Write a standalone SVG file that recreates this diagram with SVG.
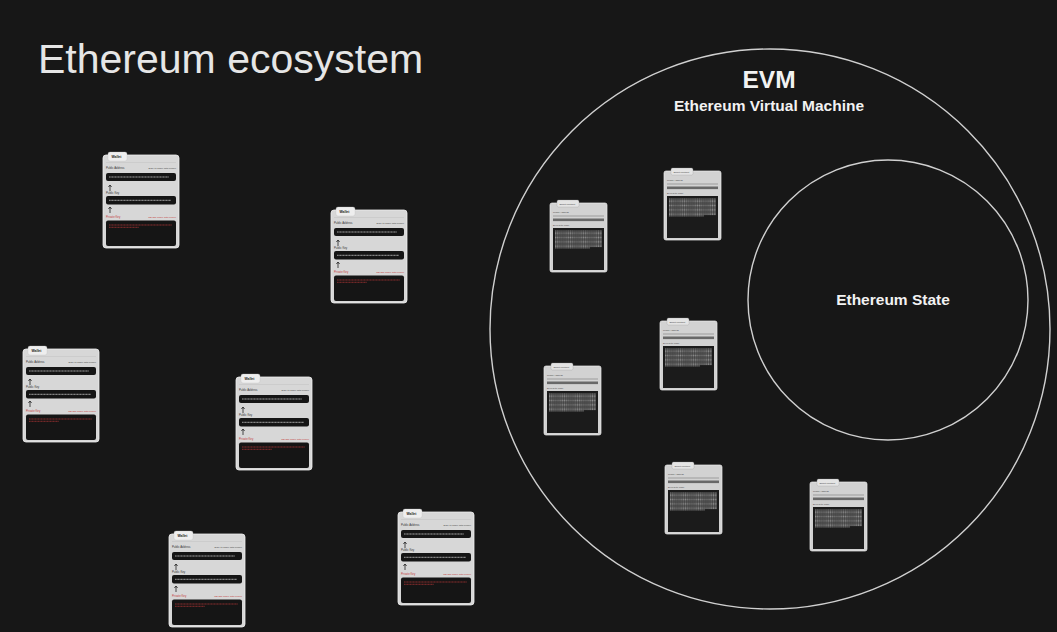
<svg xmlns="http://www.w3.org/2000/svg" xmlns:xlink="http://www.w3.org/1999/xlink" width="1057" height="632" viewBox="0 0 1057 632">
<style>
.title{font-family:"Liberation Sans",Arial,sans-serif;font-size:41px;fill:#e6e6e6}
.lbl{font-family:"Liberation Sans",Arial,sans-serif;font-weight:bold;fill:#f2f2f2;text-anchor:middle}
.ring{fill:none;stroke:#d0d0d0;stroke-width:1.4}
.wt{font-family:"Liberation Sans",Arial,sans-serif;font-weight:bold;font-size:3.4px;fill:#222}
.wl{font-family:"Liberation Sans",Arial,sans-serif;font-size:2.8px;fill:#333}
.wr{font-family:"Liberation Sans",Arial,sans-serif;font-size:2.4px;fill:#444;text-anchor:end}
.red{fill:#c43a3a}
.ct{font-family:"Liberation Sans",Arial,sans-serif;font-size:2.4px;fill:#444}
.cl{font-family:"Liberation Sans",Arial,sans-serif;font-size:2.4px;fill:#444}
</style>
<defs>
<g id="walletTpl">
 <rect x="0" y="3" width="76" height="93" rx="3" fill="#d7d7d7" stroke="#efefef" stroke-width="0.8"/>
 <rect x="5" y="0" width="19" height="9" rx="2" fill="#eeeeee" stroke="#bdbdbd" stroke-width="0.3"/>
 <text x="8.5" y="6" class="wt">Wallet</text>
 <line x1="3" y1="10.5" x2="73" y2="10.5" stroke="#bbbbbb" stroke-width="0.4"/>
 <text x="3" y="17" class="wl">Public Address</text>
 <text x="73" y="17" class="wr">Easy to share with people</text>
 <rect x="3" y="21" width="70" height="8" rx="2" fill="#151515"/>
 <line x1="6" y1="25" x2="66" y2="25" stroke="#b0b0b0" stroke-width="0.9" stroke-dasharray="1.2 0.3"/>
 <path d="M7 39 V33 M5.4 35 L7 33 L8.6 35" stroke="#222" stroke-width="0.8" fill="none"/>
 <text x="3" y="41.5" class="wl">Public Key</text>
 <rect x="3" y="44" width="70" height="8.5" rx="2" fill="#151515"/>
 <line x1="6" y1="48.3" x2="68" y2="48.3" stroke="#b0b0b0" stroke-width="0.9" stroke-dasharray="1.2 0.3"/>
 <path d="M7 61 V55 M5.4 57 L7 55 L8.6 57" stroke="#222" stroke-width="0.8" fill="none"/>
 <text x="3" y="66" class="wl red">Private Key</text>
 <text x="73" y="66" class="wr red">NEVER share with people</text>
 <rect x="3" y="68.5" width="70" height="25.5" rx="2" fill="#151515"/>
 <line x1="6" y1="73" x2="69" y2="73" stroke="#a33333" stroke-width="0.8" stroke-dasharray="1.2 0.3"/>
 <line x1="6" y1="75.3" x2="36" y2="75.3" stroke="#a33333" stroke-width="0.8" stroke-dasharray="1.2 0.3"/>
</g>
<g id="contractTpl">
 <rect x="0" y="3" width="57" height="69" rx="2" fill="#d2d2d2" stroke="#ececec" stroke-width="0.7"/>
 <rect x="7" y="0" width="22" height="7" rx="1.5" fill="#e4e4e4" stroke="#999999" stroke-width="0.3"/>
 <text x="9.5" y="4.8" class="ct">Smart contract</text>
 <text x="3" y="13" class="cl">Public Address</text>
 <line x1="3" y1="16" x2="54" y2="16" stroke="#7a7a7a" stroke-width="0.6"/>
 <rect x="3" y="18.5" width="51" height="2.6" fill="#686868"/>
 <text x="3" y="25.5" class="cl">EVM byte code</text>
 <rect x="3" y="28" width="51" height="42" fill="#1b1b1b"/>
 <path d="M5 31H52M5 32.3H52M5 33.6H52M5 34.9H52M5 36.2H52M5 37.5H52M5 38.8H52M5 40.1H52M5 41.4H52M5 42.7H52M5 44H52M5 45.3H52M5 46.6H52M5 47.9H40" stroke="#9e9e9e" stroke-width="0.9" stroke-dasharray="1 0.3 0.6 0.25" fill="none"/>
</g>
</defs>
<rect x="0" y="0" width="1057" height="632" fill="#171717"/>
<text x="38" y="73" class="title">Ethereum ecosystem</text>

<g id="evm">
 <circle cx="770" cy="329" r="280" class="ring"/>
 <text x="769" y="88" class="lbl" font-size="24.5">EVM</text>
 <text x="769" y="111" class="lbl" font-size="15.5">Ethereum Virtual Machine</text>
</g>
<g id="state">
 <circle cx="888" cy="300" r="140" class="ring"/>
 <text x="893" y="305" class="lbl" font-size="15.5">Ethereum State</text>
</g>

<g id="wallet1"><use xlink:href="#walletTpl" transform="translate(103,152)"/></g>
<g id="wallet2"><use xlink:href="#walletTpl" transform="translate(331,207)"/></g>
<g id="wallet3"><use xlink:href="#walletTpl" transform="translate(23,346)"/></g>
<g id="wallet4"><use xlink:href="#walletTpl" transform="translate(236,374)"/></g>
<g id="wallet5"><use xlink:href="#walletTpl" transform="translate(169,531)"/></g>
<g id="wallet6"><use xlink:href="#walletTpl" transform="translate(398,509)"/></g>

<g id="contract1"><use xlink:href="#contractTpl" transform="translate(550,200)"/></g>
<g id="contract2"><use xlink:href="#contractTpl" transform="translate(664,168)"/></g>
<g id="contract3"><use xlink:href="#contractTpl" transform="translate(660,318)"/></g>
<g id="contract4"><use xlink:href="#contractTpl" transform="translate(544,363)"/></g>
<g id="contract5"><use xlink:href="#contractTpl" transform="translate(665,462)"/></g>
<g id="contract6"><use xlink:href="#contractTpl" transform="translate(810,479)"/></g>

<g id="connectors"></g>
</svg>
